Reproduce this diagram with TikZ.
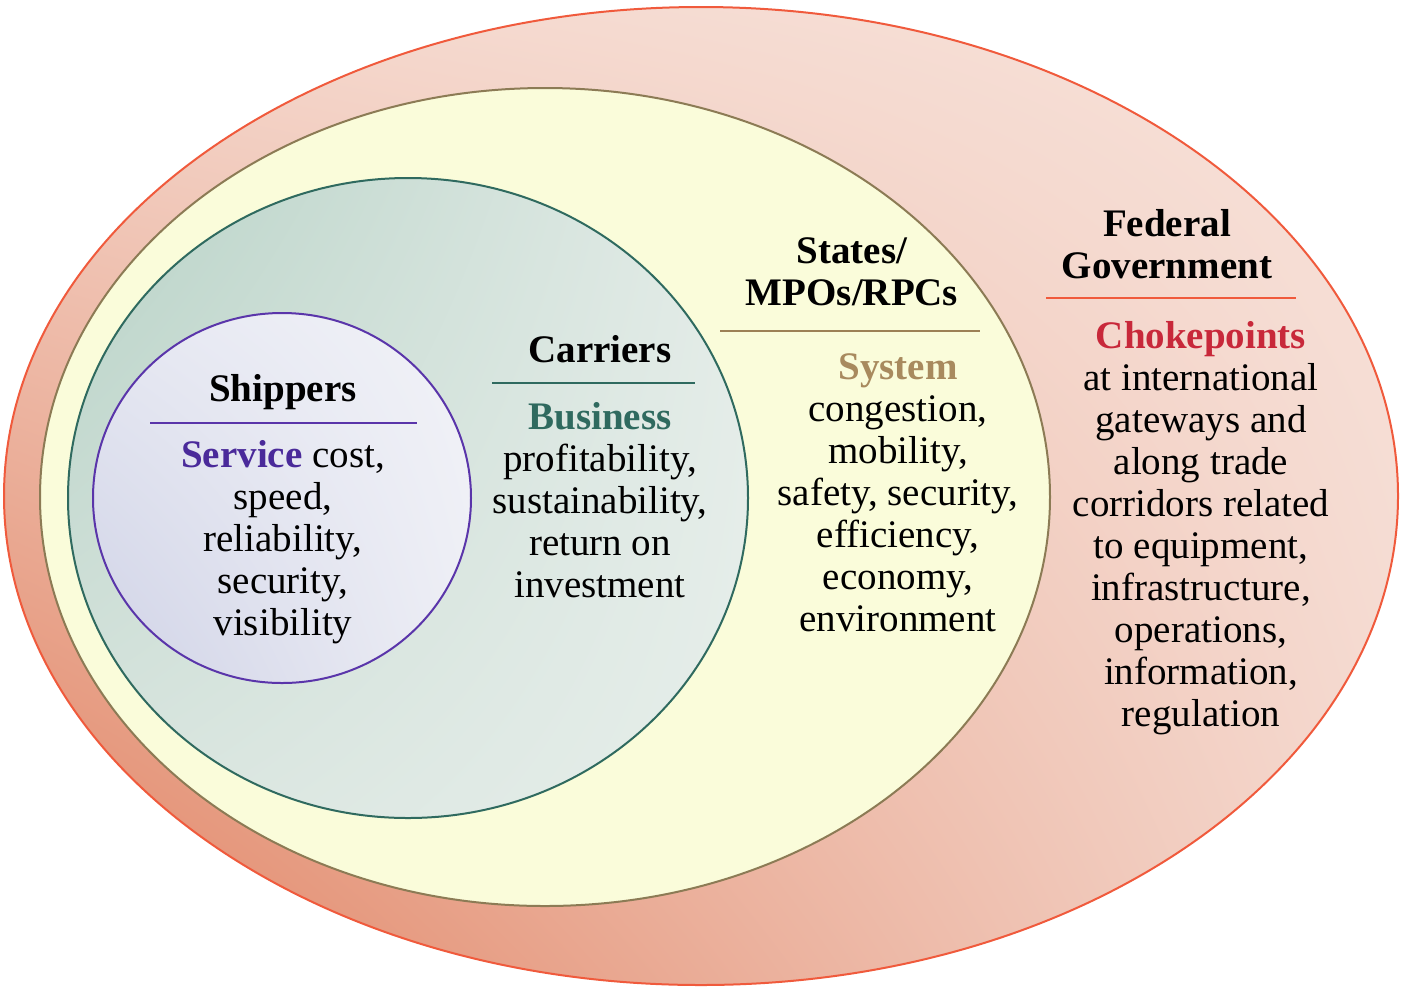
\documentclass[tikz,border=0pt]{standalone}
\usepackage{fontspec}
\setmainfont{Liberation Serif}
\usetikzlibrary{shadings}
\definecolor{outerline}{HTML}{F05A3C}
\definecolor{outerUL}{HTML}{F4D6CB}
\definecolor{outerUR}{HTML}{F7E2DA}
\definecolor{outerLL}{HTML}{E0805F}
\definecolor{outerLR}{HTML}{F4D8CE}
\definecolor{yelfill}{HTML}{FAFCDA}
\definecolor{yelline}{HTML}{8C7B55}
\definecolor{grnline}{HTML}{2F6A5F}
\definecolor{grnUL}{HTML}{B7D2C6}
\definecolor{grnUR}{HTML}{E4ECE8}
\definecolor{grnLL}{HTML}{D9E5DF}
\definecolor{grnLR}{HTML}{E6EEEA}
\definecolor{purline}{HTML}{5A35AA}
\definecolor{purUL}{HTML}{E6E8F2}
\definecolor{purUR}{HTML}{F1F2F7}
\definecolor{purLL}{HTML}{CFD2E6}
\definecolor{purLR}{HTML}{EDEEF5}
\definecolor{servicec}{HTML}{4A2A9A}
\definecolor{businessc}{HTML}{2F6A5F}
\definecolor{systemc}{HTML}{A88A5E}
\definecolor{chokec}{HTML}{C8283A}
\definecolor{stateline}{HTML}{9C8055}
\begin{document}
\begin{tikzpicture}[x=0.5pt,y=-0.5pt,
  txt/.style={font=\fontsize{19.5}{21}\selectfont, align=center, inner sep=0pt},
  head/.style={txt, font=\fontsize{19.5}{21}\selectfont\bfseries},
  sep/.style={line width=1pt}]
\useasboundingbox (0,0) rectangle (1403,987);
% outer: Federal Government
\shade[upper left=outerUL, upper right=outerUR, lower left=outerLL, lower right=outerLR]
  (701,496) ellipse [x radius=697, y radius=489];
\draw[outerline, line width=1pt] (701,496) ellipse [x radius=697, y radius=489];
% yellow: States
\draw[yelline, fill=yelfill, line width=1pt] (545,497) ellipse [x radius=505, y radius=409];
% green: Carriers
\shade[upper left=grnUL, upper right=grnUR, lower left=grnLL, lower right=grnLR]
  (408,498) ellipse [x radius=340, y radius=320];
\draw[grnline, line width=1pt] (408,498) ellipse [x radius=340, y radius=320];
% purple: Shippers
\shade[upper left=purUL, upper right=purUR, lower left=purLL, lower right=purLR]
  (282,498) ellipse [x radius=189, y radius=185];
\draw[purline, line width=1pt] (282,498) ellipse [x radius=189, y radius=185];

% Shippers
\node[head, anchor=base] (shiph) at (283,401) {Shippers};
\draw[sep, purline] (150,423) -- (417,423);
\node[txt, anchor=north] (shipb) at (283,440) {\textcolor{servicec}{\bfseries Service} cost,\\speed,\\reliability,\\security,\\visibility};

% Carriers
\node[head, anchor=base] (carh) at (600,362) {Carriers};
\draw[sep, grnline] (492,383) -- (695,383);
\node[txt, anchor=north] (carb) at (600,402) {\textcolor{businessc}{\bfseries Business}\\profitability,\\sustainability,\\return on\\investment};

% States
\node[head, anchor=north] (stah) at (852,237) {States/\\MPOs/RPCs};
\draw[sep, stateline] (720,331) -- (980,331);
\node[txt, anchor=north] (stab) at (898,353) {\textcolor{systemc}{\bfseries System}\\congestion,\\mobility,\\safety, security,\\efficiency,\\economy,\\environment};

% Federal
\node[head, anchor=north] (fedh) at (1167,209) {Federal\\Government};
\draw[sep, outerline] (1046,298) -- (1296,298);
\node[txt, anchor=north] (fedb) at (1201,321) {\textcolor{chokec}{\bfseries Chokepoints}\\at international\\gateways and\\along trade\\corridors related\\to equipment,\\infrastructure,\\operations,\\information,\\regulation};
\end{tikzpicture}
\end{document}
